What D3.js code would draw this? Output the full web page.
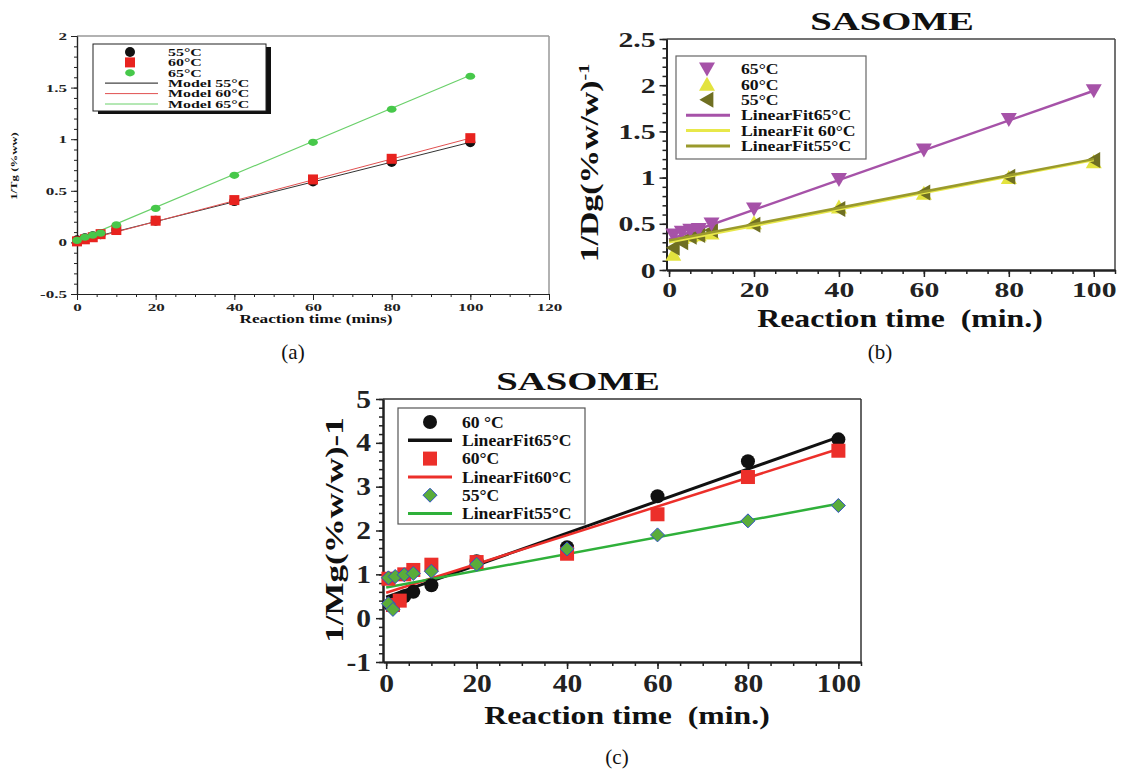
<!DOCTYPE html>
<html><head><meta charset="utf-8">
<script src="https://cdn.jsdelivr.net/npm/d3@7"></script>
<style>body{margin:0;background:#fff}svg{display:block}svg text{font-family:'Liberation Serif','DejaVu Serif',serif}</style>
</head><body>
<svg id="c" width="1138" height="774"></svg>
<script>
// ---------- DATA ----------
// Panel (a)
const aTimes = [0, 2, 4, 6, 10, 20, 40, 60, 80, 100];
const a55 = [0.02, 0.04, 0.06, 0.08, 0.12, 0.21, 0.40, 0.59, 0.78, 0.97];
const a60 = [0.01, 0.03, 0.05, 0.08, 0.12, 0.21, 0.41, 0.61, 0.81, 1.01];
const a65 = [0.02, 0.05, 0.07, 0.09, 0.17, 0.33, 0.65, 0.97, 1.29, 1.61];
const aFit = { m55: [0.01, 0.0096], m60: [0.0, 0.0101], m65: [0.02, 0.0160] };
const aXTicks = [0, 20, 40, 60, 80, 100, 120];
const aYTicks = [-0.5, 0, 0.5, 1, 1.5, 2];
const aLegend = ["55°C", "60°C", "65°C", "Model 55°C", "Model 60°C", "Model 65°C"];

// Panel (b)
const bTimes = [1, 3, 5, 7, 10, 20, 40, 60, 80, 100];
const b65 = [0.38, 0.41, 0.43, 0.44, 0.50, 0.66, 0.98, 1.30, 1.63, 1.94];
const b60 = [0.17, 0.35, 0.37, 0.38, 0.40, 0.51, 0.68, 0.83, 1.00, 1.17];
const b55 = [0.24, 0.30, 0.36, 0.38, 0.43, 0.49, 0.66, 0.84, 1.01, 1.19];
const bFit = { f65: [0.33, 0.0161], f60: [0.30, 0.0089], f55: [0.32, 0.0088] };
const bXTicks = [0, 20, 40, 60, 80, 100];
const bYTicks = [0, 0.5, 1, 1.5, 2, 2.5];
const bLegend = ["65°C", "60°C", "55°C", "LinearFit65°C", "LinearFit 60°C", "LinearFit55°C"];

// Panel (c)
const cTimesK = [1, 2, 4, 6, 10, 20, 40, 60, 80, 100];
const cK = [0.30, 0.40, 0.50, 0.60, 0.75, 1.30, 1.62, 2.78, 3.58, 4.08];
const cTimesR = [0.5, 1.5, 3, 4, 6, 10, 20, 40, 60, 80, 100];
const cR = [0.90, 0.30, 0.40, 1.00, 1.10, 1.22, 1.28, 1.47, 2.37, 3.22, 3.82];
const cTimesG = [0.5, 0.5, 1.5, 2, 4, 6, 10, 20, 40, 60, 80, 100];
const cG = [0.92, 0.33, 0.20, 0.95, 0.99, 1.02, 1.07, 1.23, 1.58, 1.90, 2.22, 2.57];
const cFit = { k: [0.48, 0.0365], r: [0.58, 0.0328], g: [0.70, 0.0191] };
const cXTicks = [0, 20, 40, 60, 80, 100];
const cYTicks = [-1, 0, 1, 2, 3, 4, 5];
const cLegend = ["60 °C", "LinearFit65°C", "60°C", "LinearFit60°C", "55°C", "LinearFit55°C"];

// ---------- DRAW ----------
const svg = d3.select("#c");
const SERIF = "'Liberation Serif','DejaVu Serif',serif";
const zip = (t, v) => t.map((x, i) => [x, v[i]]);

function txt(g, x, y, str, o) {
  const t = g.append("text")
    .attr("transform", `translate(${x},${y})${o.rot ? " rotate(-90)" : ""} scale(${o.k || 1},1)`)
    .attr("text-anchor", o.anchor || "start")
    .style("font-family", SERIF).style("font-weight", o.bold === false ? "normal" : "bold")
    .style("font-size", o.size + "px").attr("fill", "#111");
  if (o.dy) t.attr("dy", o.dy);
  if (o.pre) t.attr("xml:space", "preserve").style("white-space", "pre");
  t.append("tspan").text(str);
  if (o.sup) t.append("tspan").attr("dy", "-0.6em").style("font-size", (o.size * 0.6) + "px").text(o.sup);
  return t;
}

function sym(g, type, x, y, s, fill, stroke) {
  let shape;
  if (type === "circle") shape = g.append("circle").attr("cx", x).attr("cy", y).attr("r", s);
  else if (type === "square") shape = g.append("rect").attr("x", x - s).attr("y", y - s).attr("width", 2 * s).attr("height", 2 * s);
  else if (type === "hex") shape = g.append("ellipse").attr("cx", x).attr("cy", y).attr("rx", s * 1.35).attr("ry", s);
  else {
    let pts;
    if (type === "down") pts = [[x - s, y - s * 0.8], [x + s, y - s * 0.8], [x, y + s * 0.95]];
    else if (type === "up") pts = [[x - s, y + s * 0.8], [x + s, y + s * 0.8], [x, y - s * 0.95]];
    else if (type === "left") pts = [[x + s * 0.8, y - s], [x + s * 0.8, y + s], [x - s * 0.95, y]];
    else if (type === "diamond") pts = [[x, y - s], [x + s, y], [x, y + s], [x - s, y]];
    shape = g.append("polygon").attr("points", pts.map(p => p.join(",")).join(" "));
  }
  shape.attr("fill", fill).attr("stroke", stroke || "none").attr("stroke-width", stroke ? 1 : 0);
}

function panel(cfg) {
  const x = d3.scaleLinear().domain(cfg.xd).range(cfg.xr);
  const y = d3.scaleLinear().domain(cfg.yd).range(cfg.yr);
  const g = svg.append("g");
  g.append("line").attr("x1", cfg.xr[0]).attr("x2", cfg.xr[1]).attr("y1", cfg.yr[1]).attr("y2", cfg.yr[1])
    .attr("stroke", cfg.frameColor).attr("stroke-width", cfg.frameW);
  g.append("line").attr("x1", cfg.xr[1]).attr("x2", cfg.xr[1]).attr("y1", cfg.yr[0]).attr("y2", cfg.yr[1])
    .attr("stroke", cfg.frameColor).attr("stroke-width", cfg.frameW);
  const minorX = d3.range(cfg.xTicks[0], cfg.xMinorMax + 1e-9, cfg.xMinor);
  const minorY = d3.range(cfg.yTicks[0], cfg.yTicks[cfg.yTicks.length - 1] + 1e-9, cfg.yMinor);
  const gx = g.append("g").attr("transform", `translate(0,${cfg.yr[0]})`);
  gx.call(d3.axisBottom(x).tickValues(minorX).tickSize(cfg.minorLen).tickFormat("").tickSizeOuter(0));
  const gx2 = g.append("g").attr("transform", `translate(0,${cfg.yr[0]})`);
  gx2.call(d3.axisBottom(x).tickValues(cfg.xTicks).tickSize(cfg.majorLen).tickSizeOuter(0).tickPadding(cfg.xPad).tickFormat(d3.format("")));
  const gy = g.append("g").attr("transform", `translate(${cfg.xr[0]},0)`);
  gy.call(d3.axisLeft(y).tickValues(minorY).tickSize(cfg.minorLen).tickFormat("").tickSizeOuter(0));
  const gy2 = g.append("g").attr("transform", `translate(${cfg.xr[0]},0)`);
  gy2.call(d3.axisLeft(y).tickValues(cfg.yTicks).tickSize(cfg.majorLen).tickSizeOuter(0).tickPadding(cfg.yPad).tickFormat(d => String(d).replace("−", "-")));
  [gx, gx2, gy, gy2].forEach(a => {
    a.selectAll("path").attr("stroke", "#222").attr("stroke-width", cfg.axisW);
    a.selectAll("line").attr("stroke", "#222").attr("stroke-width", cfg.tickW);
    a.selectAll("text").style("font-family", SERIF).style("font-weight", "bold").style("font-size", cfg.tickFont + "px").attr("fill", "#222");
  });
  const k = cfg.tickK;
  gx2.selectAll("text").attr("transform", `scale(${k},1)`);
  gy2.selectAll("text").attr("x", -(cfg.majorLen + cfg.yPad) / k).attr("transform", `scale(${k},1)`);

  const drawFits = () => cfg.fits.forEach(f => {
    g.append("line").attr("x1", x(0)).attr("x2", x(100))
      .attr("y1", y(f.p[0])).attr("y2", y(f.p[0] + f.p[1] * 100))
      .attr("stroke", f.color).attr("stroke-width", f.w);
  });
  if (!cfg.fitsTop) drawFits();
  cfg.series.forEach(s => {
    const gs = g.append("g");
    s.data.forEach(d => sym(gs, s.type, x(d[0]), y(d[1]), s.size, s.fill, s.stroke));
  });
  if (cfg.fitsTop) drawFits();

  const L = cfg.legend;
  if (L.shadow) g.append("rect").attr("x", L.x + 5).attr("y", L.y + 3).attr("width", L.w).attr("height", L.h).attr("fill", "#111");
  g.append("rect").attr("x", L.x).attr("y", L.y).attr("width", L.w).attr("height", L.h)
    .attr("fill", "#fff").attr("stroke", L.stroke).attr("stroke-width", L.sw);
  L.items.forEach((it, i) => {
    const yy = L.y0 + i * L.dy;
    if (it.kind === "line") g.append("line").attr("x1", L.lx1).attr("x2", L.lx2).attr("y1", yy).attr("y2", yy)
      .attr("stroke", it.color).attr("stroke-width", it.w);
    else sym(g, it.type, L.sx, yy, it.size, it.fill, it.stroke);
    txt(g, L.tx, yy, it.label, { size: L.font, k: L.k, dy: "0.35em" });
  });
  txt(g, cfg.xLabel.x, cfg.xLabel.y, cfg.xLabel.text, { size: cfg.xLabel.size, k: cfg.xLabel.k, anchor: "middle", pre: true });
  txt(g, cfg.yLabel.x, cfg.yLabel.y, cfg.yLabel.text, { size: cfg.yLabel.size, k: cfg.yLabel.k, anchor: "middle", rot: true, sup: cfg.yLabel.sup });
  if (cfg.title) txt(g, cfg.title.x, cfg.title.y, cfg.title.text, { size: cfg.title.size, k: cfg.title.k, anchor: "middle" });
  txt(g, cfg.tag.x, cfg.tag.y, cfg.tag.text, { size: 21, anchor: "middle", bold: false });
}

// Panel (a)
const A = { blk: "#111", red: "#e8231f", grn: "#47c84a" };
panel({
  xd: [0, 120], xr: [77, 549], yd: [-0.5, 2], yr: [294, 36],
  xTicks: aXTicks, yTicks: aYTicks, xMinor: 5, xMinorMax: 120, yMinor: 0.1,
  majorLen: 6, minorLen: 3, xPad: 3, yPad: 4, tickFont: 11, tickK: 1.55, axisW: 1.2, tickW: 1,
  frameColor: "#999", frameW: 1.5,
  fits: [{ p: aFit.m55, color: "#333", w: 1 }, { p: aFit.m60, color: "#e05050", w: 1 }, { p: aFit.m65, color: "#6ad06a", w: 1.2 }],
  series: [
    { data: zip(aTimes, a55), type: "circle", size: 5, fill: A.blk },
    { data: zip(aTimes, a60), type: "square", size: 5, fill: A.red },
    { data: zip(aTimes, a65), type: "hex", size: 3.6, fill: A.grn }
  ],
  legend: {
    x: 93, y: 44, w: 173, h: 67, shadow: true, stroke: "#222", sw: 1,
    y0: 52, dy: 10.4, sx: 130, lx1: 105, lx2: 158, tx: 168, font: 11, k: 1.45,
    items: [
      { label: aLegend[0], type: "circle", size: 5, fill: A.blk },
      { label: aLegend[1], type: "square", size: 5, fill: A.red },
      { label: aLegend[2], type: "hex", size: 3.6, fill: A.grn },
      { label: aLegend[3], kind: "line", color: "#444", w: 1.2 },
      { label: aLegend[4], kind: "line", color: "#e05050", w: 1 },
      { label: aLegend[5], kind: "line", color: "#6ad06a", w: 1 }
    ]
  },
  xLabel: { x: 316, y: 323, size: 11.5, k: 1.5, text: "Reaction time (mins)" },
  yLabel: { x: 17, y: 166, size: 8.5, k: 1.5, text: "1/Tg (%ww)" },
  tag: { x: 293, y: 359, text: "(a)" }
});

// Panel (b)
const B = { pur: "#a652a8", yel: "#e3e33e", olv: "#6f6f22", olvL: "#9a9a2c", yelL: "#e8e84a" };
panel({
  xd: [-0.6, 105], xr: [666.5, 1115], yd: [0, 2.5], yr: [270, 39],
  xTicks: bXTicks, yTicks: bYTicks, xMinor: 5, xMinorMax: 105, yMinor: 0.1,
  majorLen: 7, minorLen: 4, xPad: 4, yPad: 4, tickFont: 22, tickK: 1.35, axisW: 2, tickW: 1.5,
  frameColor: "#444", frameW: 1.5,
  fits: [{ p: bFit.f65, color: B.pur, w: 2.5 }, { p: bFit.f60, color: B.yelL, w: 2.5 }, { p: bFit.f55, color: B.olvL, w: 2.5 }],
  fitsTop: true,
  series: [
    { data: zip(bTimes, b60), type: "up", size: 8, fill: B.yel },
    { data: zip(bTimes, b55), type: "left", size: 8, fill: B.olv },
    { data: zip(bTimes, b65), type: "down", size: 8, fill: B.pur }
  ],
  legend: {
    x: 676, y: 56, w: 190, h: 103, shadow: false, stroke: "#666", sw: 1.2,
    y0: 69, dy: 15.4, sx: 707, lx1: 686, lx2: 730, tx: 741, font: 15, k: 1.18,
    items: [
      { label: bLegend[0], type: "down", size: 8, fill: B.pur },
      { label: bLegend[1], type: "up", size: 8, fill: B.yel },
      { label: bLegend[2], type: "left", size: 8, fill: B.olv },
      { label: bLegend[3], kind: "line", color: B.pur, w: 3 },
      { label: bLegend[4], kind: "line", color: B.yelL, w: 3 },
      { label: bLegend[5], kind: "line", color: B.olvL, w: 3 }
    ]
  },
  xLabel: { x: 900, y: 327, size: 26, k: 1.22, text: "Reaction time  (min.)" },
  yLabel: { x: 598, y: 163, size: 25, k: 1.35, text: "1/Dg(%w/w)", sup: "-1" },
  title: { x: 892, y: 30, size: 25, k: 1.55, text: "SASOME" },
  tag: { x: 880, y: 359, text: "(b)" }
});

// Panel (c)
const C = { blk: "#111", red: "#ec2f2a", grn: "#5aac3a", grnL: "#2fb03a", blue: "#3050c8" };
panel({
  xd: [-0.7, 105], xr: [383, 861], yd: [-1, 5], yr: [662, 399],
  xTicks: cXTicks, yTicks: cYTicks, xMinor: 5, xMinorMax: 105, yMinor: 0.2,
  majorLen: 7, minorLen: 4, xPad: 5, yPad: 5, tickFont: 25, tickK: 1.18, axisW: 2, tickW: 1.5,
  frameColor: "#333", frameW: 1.5,
  fits: [{ p: cFit.k, color: C.blk, w: 3 }, { p: cFit.r, color: C.red, w: 2.5 }, { p: cFit.g, color: C.grnL, w: 2.5 }],
  series: [
    { data: zip(cTimesK, cK), type: "circle", size: 7, fill: C.blk },
    { data: zip(cTimesR, cR), type: "square", size: 7, fill: C.red },
    { data: zip(cTimesG, cG), type: "diamond", size: 7, fill: C.grn, stroke: C.blue }
  ],
  legend: {
    x: 398, y: 408, w: 187, h: 116, shadow: false, stroke: "#555", sw: 1.2,
    y0: 422, dy: 18.3, sx: 430, lx1: 408, lx2: 452, tx: 462, font: 16, k: 1.1,
    items: [
      { label: cLegend[0], type: "circle", size: 7, fill: C.blk },
      { label: cLegend[1], kind: "line", color: C.blk, w: 3.5 },
      { label: cLegend[2], type: "square", size: 7, fill: C.red },
      { label: cLegend[3], kind: "line", color: C.red, w: 3 },
      { label: cLegend[4], type: "diamond", size: 7, fill: C.grn, stroke: C.blue },
      { label: cLegend[5], kind: "line", color: C.grnL, w: 3 }
    ]
  },
  xLabel: { x: 627, y: 724, size: 26, k: 1.22, text: "Reaction time  (min.)" },
  yLabel: { x: 343, y: 530, size: 25, k: 1.4, text: "1/Mg(%w/w)-1" },
  title: { x: 578, y: 390, size: 25, k: 1.55, text: "SASOME" },
  tag: { x: 617, y: 764, text: "(c)" }
});
</script>
</body></html>
